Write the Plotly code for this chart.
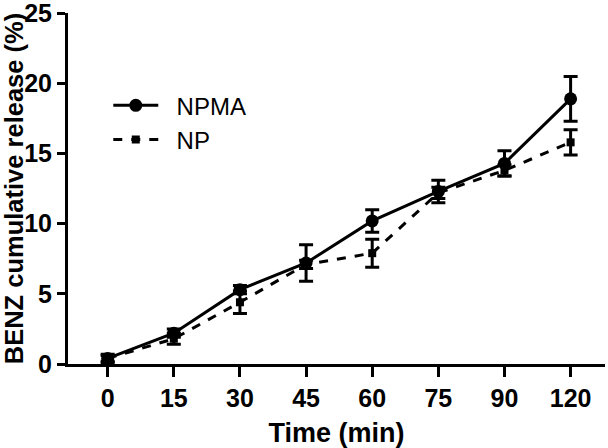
import plotly.graph_objects as go

time_labels = ["0", "15", "30", "45", "60", "75", "90", "120"]
npma = [0.4, 2.2, 5.3, 7.2, 10.2, 12.3, 14.3, 18.9]
npma_err = [0.3, 0.3, 0.3, 1.3, 0.8, 0.8, 0.9, 1.6]
np_vals = [0.4, 1.8, 4.4, 7.1, 7.9, 12.2, 13.8, 15.8]
np_err = [0.2, 0.4, 0.8, 0.3, 1.0, 0.4, 0.4, 0.9]
series_names = ["\u00a0\u00a0NPMA", "\u00a0\u00a0NP"]

x = list(range(len(time_labels)))
font = "Liberation Sans, Arial, sans-serif"

fig = go.Figure()
fig.add_trace(go.Scatter(
    x=x, y=npma, name=series_names[0], mode="lines+markers",
    line=dict(color="black", width=3),
    marker=dict(symbol="circle", size=13, color="black"),
    error_y=dict(type="data", array=npma_err, color="black", thickness=3, width=7),
))
fig.add_trace(go.Scatter(
    x=x, y=np_vals, name=series_names[1], mode="lines+markers",
    line=dict(color="black", width=3, dash="dash"),
    marker=dict(symbol="square", size=8, color="black"),
    error_y=dict(type="data", array=np_err, color="black", thickness=3, width=7),
))

fig.update_layout(
    width=608, height=448,
    margin=dict(l=68, r=3, t=13, b=84),
    paper_bgcolor="white", plot_bgcolor="white",
    font=dict(family=font, color="black"),
    showlegend=True,
    legend=dict(x=0.075, y=0.80, xanchor="left", yanchor="top",
                font=dict(size=24, family=font), bgcolor="rgba(0,0,0,0)",
                tracegroupgap=0, itemwidth=45),
    xaxis=dict(
        range=[-0.6, 7.52], tickmode="array", tickvals=x, ticktext=time_labels,
        showgrid=False, zeroline=False, showline=True, linecolor="black", linewidth=3,
        ticks="outside", ticklen=10, tickwidth=3, tickcolor="black", automargin=False,
        tickfont=dict(size=25, family=font, weight="bold"),
        title=dict(text="Time (min)", font=dict(size=27, family=font, weight="bold"), standoff=13),
    ),
    yaxis=dict(
        range=[0, 25.02], tickmode="array", tickvals=[0, 5, 10, 15, 20, 25],
        showgrid=False, zeroline=False, showline=True, linecolor="black", linewidth=3,
        ticks="outside", ticklen=8, tickwidth=3, tickcolor="black", automargin=False,
        ticklabeloverflow="allow",
        tickfont=dict(size=25, family=font, weight="bold"),
        title=dict(text="BENZ cumulative release (%)", font=dict(size=25.5, family=font, weight="bold"), standoff=2),
    ),
)

fig.write_html("out.html", config={"displayModeBar": False},
               post_script="document.body.style.margin='0px';")
